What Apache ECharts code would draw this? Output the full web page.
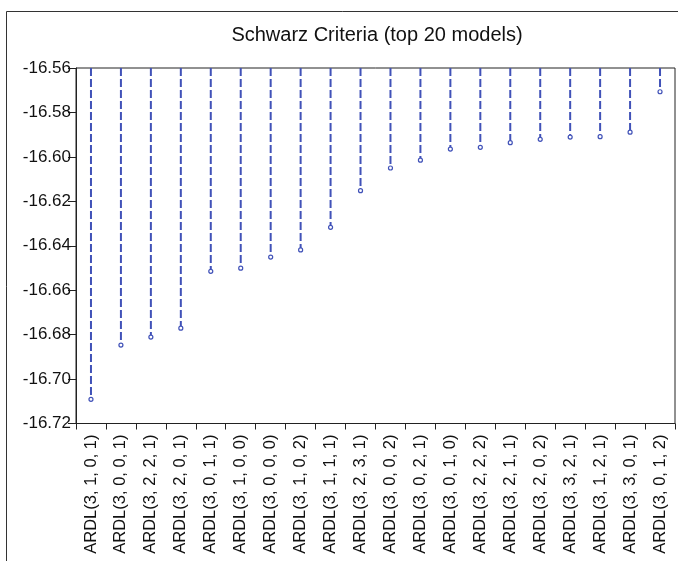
<!DOCTYPE html>
<html>
<head>
<meta charset="utf-8">
<script src="https://cdn.jsdelivr.net/npm/echarts@6/dist/echarts.min.js"></script>
<style>
html,body{margin:0;padding:0;background:#fff;}
#chart{width:678px;height:561px;}
</style>
</head>
<body>
<div id="chart"></div>
<script>
const titleText = 'Schwarz Criteria (top 20 models)';
const categories = [
  'ARDL(3, 1, 0, 1)','ARDL(3, 0, 0, 1)','ARDL(3, 2, 2, 1)','ARDL(3, 2, 0, 1)',
  'ARDL(3, 0, 1, 1)','ARDL(3, 1, 0, 0)','ARDL(3, 0, 0, 0)','ARDL(3, 1, 0, 2)',
  'ARDL(3, 1, 1, 1)','ARDL(3, 2, 3, 1)','ARDL(3, 0, 0, 2)','ARDL(3, 0, 2, 1)',
  'ARDL(3, 0, 1, 0)','ARDL(3, 2, 2, 2)','ARDL(3, 2, 1, 1)','ARDL(3, 2, 0, 2)',
  'ARDL(3, 3, 2, 1)','ARDL(3, 1, 2, 1)','ARDL(3, 3, 0, 1)','ARDL(3, 0, 1, 2)'
];
const values = [
  -16.7091, -16.6847, -16.6811, -16.6771, -16.6515, -16.6501, -16.6451, -16.6419,
  -16.6317, -16.6152, -16.6050, -16.6015, -16.5965, -16.5957, -16.5936, -16.5921,
  -16.5911, -16.5909, -16.5889, -16.5707
];
const yMin = -16.72;
const yMax = -16.56;
const yStep = 0.02;

const stemColor = '#4152b8';
const chart = echarts.init(document.getElementById('chart'), null, {renderer: 'canvas'});

chart.setOption({
  animation: false,
  backgroundColor: '#fff',
  title: {
    text: titleText,
    left: 372, top: 20, textAlign: 'center',
    textStyle: {fontFamily: 'Liberation Sans, Arial, sans-serif', fontSize: 20, fontWeight: 'normal', color: '#111'}
  },
  graphic: [{
    type: 'rect', shape: {x: 6.5, y: 11.5, width: 700, height: 600},
    style: {fill: 'none', stroke: '#333', lineWidth: 1}, silent: true
  }],
  grid: {
    left: 76, top: 68, right: 3, bottom: 137.5,
    show: true, borderColor: '#222', borderWidth: 1, backgroundColor: 'transparent'
  },
  xAxis: {
    type: 'category', data: categories, boundaryGap: true,
    axisLine: {show: true, lineStyle: {color: '#222', width: 1}},
    axisTick: {show: true, length: 6, lineStyle: {color: '#222'}},
    axisLabel: {rotate: 90, margin: 11, interval: 0, fontFamily: 'Liberation Sans, Arial, sans-serif', fontSize: 16.5, color: '#111'},
    splitLine: {show: false}
  },
  yAxis: {
    type: 'value', min: yMin, max: yMax, interval: yStep,
    axisLine: {show: true, lineStyle: {color: '#222', width: 1}},
    axisTick: {show: true, length: 8, lineStyle: {color: '#222'}},
    axisLabel: {margin: 5, fontFamily: 'Liberation Sans, Arial, sans-serif', fontSize: 17, color: '#111',
      formatter: v => v.toFixed(2)},
    splitLine: {show: false}
  },
  series: [{
    type: 'custom',
    data: values.map((v, i) => [i, v]),
    renderItem: function (params, api) {
      const i = api.value(0);
      const top = api.coord([i, yMax]);
      const pt = api.coord([i, api.value(1)]);
      return {
        type: 'group',
        children: [{
          type: 'line',
          shape: {x1: pt[0], y1: top[1], x2: pt[0], y2: pt[1] - 2},
          style: {stroke: stemColor, lineWidth: 2, lineDash: [8, 3]}
        }, {
          type: 'circle',
          shape: {cx: pt[0], cy: pt[1], r: 2},
          style: {fill: '#fff', stroke: stemColor, lineWidth: 1.2}
        }]
      };
    },
    z: 5
  }]
});
</script>
</body>
</html>
